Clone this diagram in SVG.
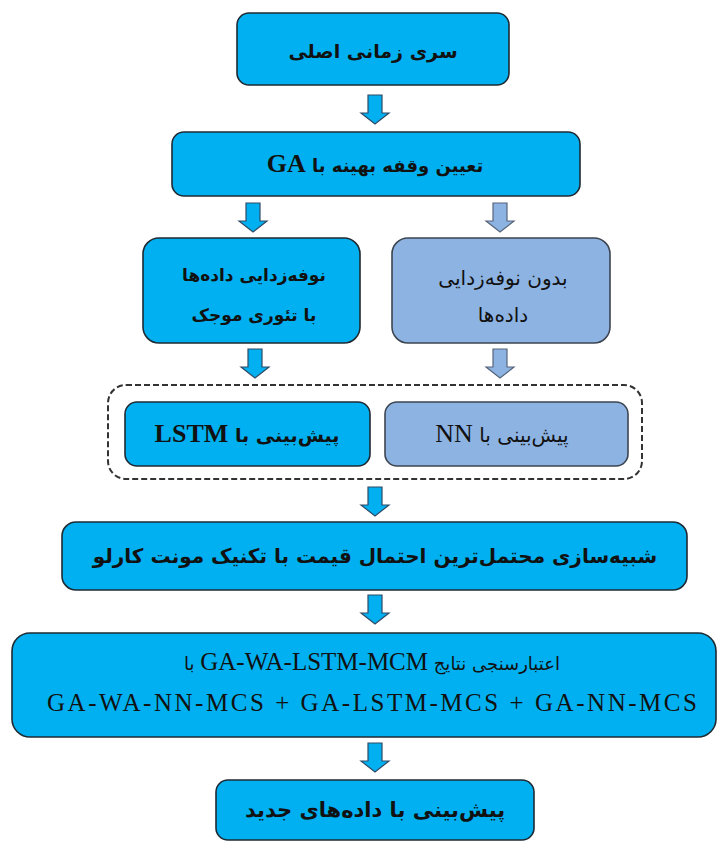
<svg xmlns="http://www.w3.org/2000/svg" width="727" height="844" viewBox="0 0 727 844">
<style>
.bx{fill:#00B0F0;stroke:#1E2A33;stroke-width:1.6}
.lb{fill:#8DB3E2;stroke:#3C4550;stroke-width:1.6}
.dash{fill:none;stroke:#333;stroke-width:2;stroke-dasharray:6 3}
.ab{fill:#00B0F0;stroke:#2F4A66;stroke-width:1.2}
.al{fill:#8DB3E2;stroke:#56657A;stroke-width:1.2}
text{font-family:"DejaVu Sans",sans-serif;fill:#111;text-anchor:middle}
.lat{font-family:"Liberation Serif","DejaVu Serif",serif}
.b{font-weight:bold}
</style>
<defs>
<path id="arr" d="M-7,0 h14 v18 h7 l-14,11 l-14,-11 h7 z"/>
</defs>
<g id="connectors">
<use href="#arr" x="375" y="95" class="ab"/>
<use href="#arr" x="253" y="203" class="ab"/>
<use href="#arr" x="500" y="203" class="al"/>
<use href="#arr" x="255" y="349" class="ab"/>
<use href="#arr" x="500" y="349" class="al"/>
<use href="#arr" x="375" y="487" class="ab"/>
<use href="#arr" x="375" y="595" class="ab"/>
<use href="#arr" x="375" y="743" class="ab"/>
</g>
<g id="n1">
<rect class="bx" x="237" y="13" width="272" height="72" rx="12"/>
<text x="373" y="58" font-size="19" class="b" direction="rtl">سری زمانی اصلی</text>
</g>
<g id="n2">
<rect class="bx" x="172" y="132" width="408" height="64" rx="12"/>
<text x="375" y="172" font-size="18" class="b" direction="rtl">تعیین وقفه بهینه با <tspan class="lat" font-size="26">GA</tspan></text>
</g>
<g id="n3">
<rect class="bx" x="143" y="238" width="217" height="105" rx="16"/>
<text x="254" y="281" font-size="17" class="b" direction="rtl">نوفه‌زدایی داده‌ها</text>
<text x="254" y="321" font-size="17" class="b" direction="rtl">با تئوری موجک</text>
</g>
<g id="n4">
<rect class="lb" x="392" y="238" width="218" height="105" rx="16"/>
<text x="503" y="285" font-size="20" direction="rtl">بدون نوفه‌زدایی</text>
<text x="503" y="322" font-size="20" direction="rtl">داده‌ها</text>
</g>
<g id="group">
<rect class="dash" x="108" y="385" width="534" height="94" rx="18"/>
</g>
<g id="n5">
<rect class="bx" x="125" y="402" width="245" height="64" rx="12"/>
<text x="247" y="442" font-size="19" class="b" direction="rtl">پیش‌بینی با <tspan class="lat" font-size="26">LSTM</tspan></text>
</g>
<g id="n6">
<rect class="lb" x="385" y="402" width="243" height="64" rx="12"/>
<text x="502" y="442" font-size="20" direction="rtl">پیش‌بینی با <tspan class="lat" font-size="26">NN</tspan></text>
</g>
<g id="n7">
<rect class="bx" x="62" y="522" width="625" height="68" rx="14"/>
<text x="375" y="563" font-size="20" class="b" direction="rtl">شبیه‌سازی محتمل‌ترین احتمال قیمت با تکنیک مونت کارلو</text>
</g>
<g id="n8">
<rect class="bx" x="12" y="633" width="704" height="104" rx="18"/>
<text x="372" y="670" font-size="18" direction="rtl">اعتبارسنجی نتایج <tspan class="lat" font-size="25">GA-WA-LSTM-MCM</tspan> با</text>
<text x="372" y="711" class="lat" font-size="25" textLength="650" lengthAdjust="spacing">GA-WA-NN-MCS + GA-LSTM-MCS + GA-NN-MCS</text>
</g>
<g id="n9">
<rect class="bx" x="216" y="780" width="318" height="60" rx="12"/>
<text x="375" y="817" font-size="21" class="b" direction="rtl">پیش‌بینی با داده‌های جدید</text>
</g>
</svg>
